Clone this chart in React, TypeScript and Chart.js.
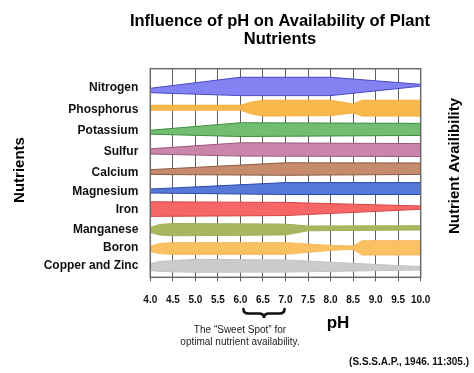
import React, { useEffect, useRef } from 'react';
import { Chart, registerables } from 'chart.js';

Chart.register(...registerables);

const FONT = '"Liberation Sans", Arial, Helvetica, sans-serif';

const titleLines = ['Influence of pH on Availability of Plant', 'Nutrients'];
const yTitle = 'Nutrients';
const rightTitle = 'Nutrient Availibility';
const xTitle = 'pH';
const sweetSpotLines = ['The \u201cSweet Spot\u201d for', 'optimal nutrient availability.'];
const citation = '(S.S.S.A.P., 1946. 11:305.)';
const sweetSpotRange = [6.0, 7.0];

const nutrients = ['Nitrogen', 'Phosphorus', 'Potassium', 'Sulfur', 'Calcium', 'Magnesium', 'Iron', 'Manganese', 'Boron', 'Copper and Zinc'];
// row positions of the category labels on the (reversed) nutrient scale, 0..10
const labelRows = [0.89, 1.95, 2.97, 3.98, 4.97, 5.91, 6.76, 7.73, 8.58, 9.46];
const phTicks = [4.0, 4.5, 5.0, 5.5, 6.0, 6.5, 7.0, 7.5, 8.0, 8.5, 9.0, 9.5, 10.0];

// band edges (upper / lower) in row units at given pH points
const nitrogenPH = [4.0, 6.0, 8.0, 10.0];
const nitrogenTop = [0.94, 0.41, 0.41, 0.75];
const nitrogenBottom = [1.15, 1.29, 1.29, 0.84];

const phosphorusPH = [4.0, 6.0, 6.25, 6.5, 8.0, 8.5, 8.7, 10.0];
const phosphorusTop = [1.75, 1.75, 1.6, 1.51, 1.51, 1.69, 1.51, 1.51];
const phosphorusBottom = [1.99, 1.99, 2.17, 2.27, 2.25, 2.12, 2.27, 2.27];

const potassiumPH = [4.0, 6.0, 10.0];
const potassiumTop = [2.95, 2.59, 2.62];
const potassiumBottom = [3.14, 3.25, 3.2];

const sulfurPH = [4.0, 6.0, 10.0];
const sulfurTop = [3.84, 3.55, 3.59];
const sulfurBottom = [4.09, 4.19, 4.21];

const calciumPH = [4.0, 7.0, 10.0];
const calciumTop = [4.84, 4.51, 4.52];
const calciumBottom = [5.07, 5.11, 5.07];

const magnesiumPH = [4.0, 7.0, 10.0];
const magnesiumTop = [5.77, 5.46, 5.46];
const magnesiumBottom = [5.96, 6.03, 6.03];

const ironPH = [4.0, 7.0, 10.0];
const ironTop = [6.38, 6.41, 6.58];
const ironBottom = [7.08, 7.04, 6.74];

const manganesePH = [4.0, 4.2, 4.5, 7.0, 7.5, 10.0];
const manganeseTop = [7.61, 7.47, 7.42, 7.45, 7.54, 7.53];
const manganeseBottom = [7.85, 7.97, 8.01, 7.97, 7.77, 7.73];

const boronPH = [4.0, 4.2, 4.5, 7.0, 8.0, 8.5, 8.7, 10.0];
const boronTop = [8.52, 8.38, 8.34, 8.34, 8.47, 8.5, 8.25, 8.25];
const boronBottom = [8.76, 8.86, 8.9, 8.9, 8.71, 8.66, 8.93, 8.93];

const copperZincPH = [4.0, 4.2, 5.0, 7.0, 10.0];
const copperZincTop = [9.36, 9.24, 9.14, 9.17, 9.49];
const copperZincBottom = [9.67, 9.72, 9.76, 9.75, 9.65];

const bandPH = [nitrogenPH, phosphorusPH, potassiumPH, sulfurPH, calciumPH, magnesiumPH, ironPH, manganesePH, boronPH, copperZincPH];
const bandTop = [nitrogenTop, phosphorusTop, potassiumTop, sulfurTop, calciumTop, magnesiumTop, ironTop, manganeseTop, boronTop, copperZincTop];
const bandBottom = [nitrogenBottom, phosphorusBottom, potassiumBottom, sulfurBottom, calciumBottom, magnesiumBottom, ironBottom, manganeseBottom, boronBottom, copperZincBottom];

const fillColors = ['#8282F2', '#F9B84C', '#72BD72', '#C985AA', '#C58B6C', '#5679D9', '#F76666', '#AAB65F', '#FAC062', '#CBCBCB'];
const lineColors = ['#4A4AC8', '#F5B040', '#3E8E3E', '#9A5A7E', '#8C5C42', '#2C4CA8', '#D84444', '#A4B058', '#F6BA58', '#C2C2C2'];

const decorPlugin = {
  id: 'decor',
  afterDraw(chart: any) {
    const ctx = chart.ctx as CanvasRenderingContext2D;
    const a = chart.chartArea;
    const xs = chart.scales.x;
    ctx.save();
    // frame
    ctx.strokeStyle = '#6a6a6a';
    ctx.lineWidth = 1.5;
    ctx.strokeRect(a.left, a.top, a.right - a.left, a.bottom - a.top);

    ctx.fillStyle = '#000';
    ctx.textAlign = 'center';
    ctx.textBaseline = 'middle';
    ctx.font = `bold 16.5px ${FONT}`;
    ctx.fillText(titleLines[0], 280, 21);
    ctx.fillText(titleLines[1], 280, 39);

    // left axis title
    ctx.font = `bold 15px ${FONT}`;
    ctx.save();
    ctx.translate(20, 170);
    ctx.rotate(-Math.PI / 2);
    ctx.fillText(yTitle, 0, 0);
    ctx.restore();

    // right title
    ctx.save();
    ctx.translate(455, 166);
    ctx.rotate(-Math.PI / 2);
    ctx.fillText(rightTitle, 0, 0);
    ctx.restore();

    // pH label
    ctx.font = `bold 17px ${FONT}`;
    ctx.fillText(xTitle, 338, 323);

    // brace
    const x1 = xs.getPixelForValue(sweetSpotRange[0]) + 3;
    const x2 = xs.getPixelForValue(sweetSpotRange[1]) - 1;
    const xm = (x1 + x2) / 2;
    const y0 = 309, ym = 313.5, y1 = 318;
    ctx.strokeStyle = '#111';
    ctx.lineWidth = 2.6;
    ctx.lineCap = 'round';
    ctx.beginPath();
    ctx.moveTo(x1, y0);
    ctx.quadraticCurveTo(x1, ym, x1 + 5, ym);
    ctx.lineTo(xm - 5, ym);
    ctx.quadraticCurveTo(xm, ym, xm, y1);
    ctx.quadraticCurveTo(xm, ym, xm + 5, ym);
    ctx.lineTo(x2 - 5, ym);
    ctx.quadraticCurveTo(x2, ym, x2, y0);
    ctx.stroke();

    // sweet spot text
    ctx.fillStyle = '#222';
    ctx.font = `10px ${FONT}`;
    ctx.fillText(sweetSpotLines[0], 240, 330);
    ctx.fillText(sweetSpotLines[1], 240, 342);

    // citation
    ctx.fillStyle = '#111';
    ctx.textAlign = 'right';
    ctx.font = `bold 10px ${FONT}`;
    ctx.fillText(citation, 469, 362);
    ctx.restore();
  },
};

export default function App() {
  const ref = useRef<HTMLCanvasElement | null>(null);

  useEffect(() => {
    if (!ref.current) return;
    const datasets: any[] = [];
    nutrients.forEach((name, i) => {
      const ph = bandPH[i];
      datasets.push({
        label: name + ' low',
        data: ph.map((x, j) => ({ x, y: bandBottom[i][j] })),
        borderColor: lineColors[i],
        borderWidth: 1,
        pointRadius: 0,
        tension: 0,
        fill: false,
      });
      datasets.push({
        label: name,
        data: ph.map((x, j) => ({ x, y: bandTop[i][j] })),
        borderColor: lineColors[i],
        backgroundColor: fillColors[i],
        borderWidth: 1,
        pointRadius: 0,
        tension: 0,
        fill: '-1',
      });
    });

    const chart = new Chart(ref.current, {
      type: 'line',
      data: { datasets },
      options: {
        animation: false,
        responsive: false,
        devicePixelRatio: 1,
        layout: { padding: { top: 68.7, right: 53.3, left: 0, bottom: 0 } },
        plugins: { legend: { display: false }, tooltip: { enabled: false }, title: { display: false } },
        scales: {
          x: {
            type: 'linear',
            min: phTicks[0],
            max: phTicks[phTicks.length - 1],
            z: 1,
            afterBuildTicks: (s: any) => { s.ticks = phTicks.map((v) => ({ value: v })); },
            afterFit: (s: any) => { s.height = 95.7; },
            grid: { color: '#5e5e5e', lineWidth: 1, drawTicks: true, tickLength: 4 },
            border: { display: false },
            ticks: {
              autoSkip: false,
              maxRotation: 0,
              padding: 13,
              color: '#111',
              font: { family: FONT, size: 10, weight: 'bold' },
              callback: (v: any) => Number(v).toFixed(1),
            },
          },
          y: {
            type: 'linear',
            min: 0,
            max: 10,
            reverse: true,
            afterBuildTicks: (s: any) => { s.ticks = labelRows.map((v) => ({ value: v })); },
            afterFit: (s: any) => { s.width = 150.3; },
            grid: { display: false, drawTicks: false },
            border: { display: false },
            ticks: {
              autoSkip: false,
              padding: 12,
              color: '#111',
              font: { family: FONT, size: 12, weight: 'bold' },
              callback: (_v: any, idx: number) => nutrients[idx],
            },
          },
        },
      } as any,
      plugins: [decorPlugin],
    });
    return () => chart.destroy();
  }, []);

  return (
    <div style={{ position: 'absolute', left: 0, top: 0, width: 474, height: 373, background: '#fff' }}>
      <canvas ref={ref} width={474} height={373} style={{ display: 'block' }} />
    </div>
  );
}
